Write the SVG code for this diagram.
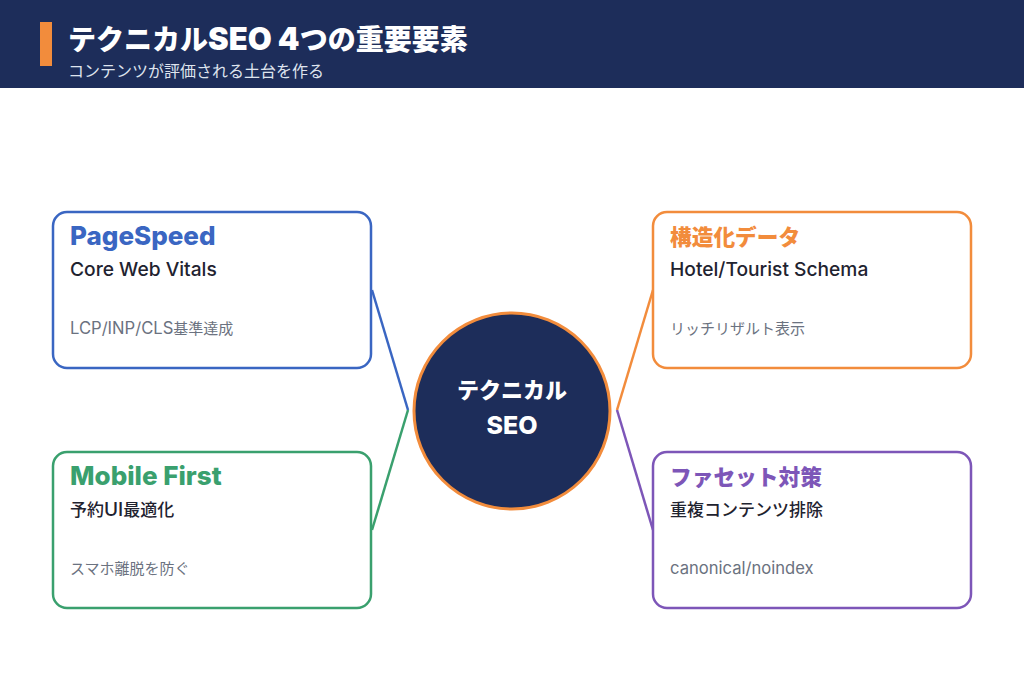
<svg xmlns="http://www.w3.org/2000/svg" width="1024" height="683" viewBox="0 0 1024 683">
<style>
text{font-family:Inter,"Noto Sans CJK JP",sans-serif}
.box{fill:#fff;stroke-width:2.5}
.tl{font-size:26px;font-weight:800}
.tj{font-size:21.7px;font-weight:800}
.sl{font-size:19.2px;font-weight:500;fill:#1f2330}
.sj{font-size:17px;font-weight:500;fill:#1f2330}
.dl{font-size:16.6px;fill:#6b7280}
.dj{font-size:15px;fill:#6b7280}
.c{fill:none;stroke-width:2.5}
</style>
<rect width="1024" height="683" fill="#fff"/>
<g id="header">
<rect x="0" y="0" width="1024" height="88" fill="#1d2d5a"/>
<rect x="40" y="22" width="12" height="44" fill="#f28c3c"/>
<text x="68" y="50" font-size="28" font-weight="900" fill="#fff">テクニカル<tspan font-size="31">SEO 4</tspan>つの重要要素</text>
<text x="68" y="77" font-size="16" fill="#dfe4ee">コンテンツが評価される土台を作る</text>
</g>
<g id="connectors">
<polyline class="c" stroke="#3a66c2" points="372,290 408,410"/>
<polyline class="c" stroke="#3aa06e" points="408,410 372,530"/>
<polyline class="c" stroke="#f28c3c" points="653,290 617,410"/>
<polyline class="c" stroke="#7d56b8" points="617,410 653,530"/>
</g>
<g id="center">
<circle cx="512" cy="411" r="98" fill="#1d2d5a" stroke="#f28c3c" stroke-width="3"/>
<text x="512" y="398" font-size="22" font-weight="800" fill="#fff" text-anchor="middle">テクニカル</text>
<text x="512" y="434" font-size="25" font-weight="800" fill="#fff" text-anchor="middle">SEO</text>
</g>
<g id="pagespeed">
<rect class="box" x="53" y="212" width="318" height="156" rx="14" stroke="#3a66c2"/>
<text class="tl" x="70" y="245" fill="#3a66c2">PageSpeed</text>
<text class="sl" x="70" y="276">Core Web Vitals</text>
<text class="dj" x="70" y="334"><tspan font-size="16.6">LCP/INP/CLS</tspan>基準達成</text>
</g>
<g id="mobile">
<rect class="box" x="53" y="452" width="318" height="156" rx="14" stroke="#3aa06e"/>
<text class="tl" x="70" y="485" fill="#3aa06e">Mobile First</text>
<text class="sj" x="70" y="516">予約<tspan font-size="19">UI</tspan>最適化</text>
<text class="dj" x="70" y="574">スマホ離脱を防ぐ</text>
</g>
<g id="structured">
<rect class="box" x="653" y="212" width="318" height="156" rx="14" stroke="#f28c3c"/>
<text class="tj" x="670" y="245" fill="#f28c3c">構造化データ</text>
<text class="sl" x="670" y="276">Hotel/Tourist Schema</text>
<text class="dj" x="670" y="334">リッチリザルト表示</text>
</g>
<g id="facet">
<rect class="box" x="653" y="452" width="318" height="156" rx="14" stroke="#7d56b8"/>
<text class="tj" x="670" y="485" fill="#7d56b8">ファセット対策</text>
<text class="sj" x="670" y="516">重複コンテンツ排除</text>
<text class="dl" x="670" y="574">canonical/noindex</text>
</g>
</svg>
